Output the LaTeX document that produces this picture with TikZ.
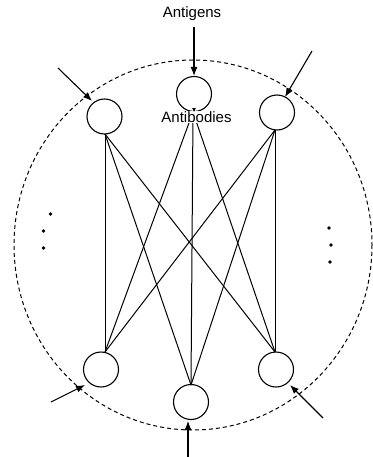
\documentclass[tikz,border=0pt]{standalone}
\usepackage{fontspec}
\setmainfont{Liberation Sans}
\usetikzlibrary{arrows.meta}
\begin{document}
\begin{tikzpicture}[x=1pt,y=-1pt,
  cell/.style={draw,circle,minimum size=35pt,inner sep=0pt,line width=1.1pt},
  link/.style={line width=1pt},
  inarrow/.style={line width=1.1pt,-{Latex[length=9pt,width=7pt]}},
  lbl/.style={font=\fontsize{15}{18}\selectfont,inner sep=0.5pt},
  dot/.style={circle,fill,inner sep=0pt,minimum size=3.8pt}]
\useasboundingbox (0,0) rectangle (372,457);
% dashed boundary
\draw[line width=1pt,dash pattern=on 4pt off 3pt] (193,245) ellipse [x radius=179, y radius=185];
% cells
\node[cell] (t1) at (104.5,116.5) {};
\node[cell] (t2) at (194,94) {};
\node[cell] (t3) at (277,112.5) {};
\node[cell] (b1) at (101,369.5) {};
\node[cell] (b2) at (191,402) {};
\node[cell] (b3) at (276,369.5) {};
% connection anchors
\coordinate (t1o) at (105,134);
\coordinate (t2o) at (193,112);
\coordinate (t3o) at (275,130);
\coordinate (b1i) at (105,352);
\coordinate (b2i) at (191,385);
\coordinate (b3i) at (275,352);
\foreach \a in {t1o,t2o,t3o}{
  \foreach \b in {b1i,b2i,b3i}{
    \draw[link] (\a) -- (\b);
  }
}
% labels
\node[lbl] (ag) at (192,14) {Antigens};
\node[lbl,fill=white] (ab) at (196.5,117) {Antibodies};
\draw[line width=0.8pt,-{Latex[length=4pt,width=4pt]}] (ab.north -| t2.south) -- (t2.south);
% input arrows
\coordinate (s2) at (194,27);
\coordinate (s1) at (58,68);
\coordinate (s3) at (312,51);
\coordinate (s4) at (51,402);
\coordinate (s5) at (188,457);
\coordinate (s6) at (323,418);
\coordinate (e1) at (92,101);
\coordinate (e3) at (285,97);
\coordinate (e4) at (85,385);
\coordinate (e5) at (188,421);
\coordinate (e6) at (290,385);
\draw[inarrow] (s2) -- (t2.north);
\draw[inarrow] (s1) -- (e1);
\draw[inarrow] (s3) -- (e3);
\draw[inarrow] (s4) -- (e4);
\draw[inarrow] (s5) -- (e5);
\draw[inarrow] (s6) -- (e6);
% ellipsis dots
\node[dot] (l1) at (50.5,214) {};
\node[dot] (l2) at (43.5,231) {};
\node[dot] (l3) at (43.5,248) {};
\node[dot] (r1) at (329,228) {};
\node[dot] (r2) at (331,245) {};
\node[dot] (r3) at (330,262) {};
\end{tikzpicture}
\end{document}
